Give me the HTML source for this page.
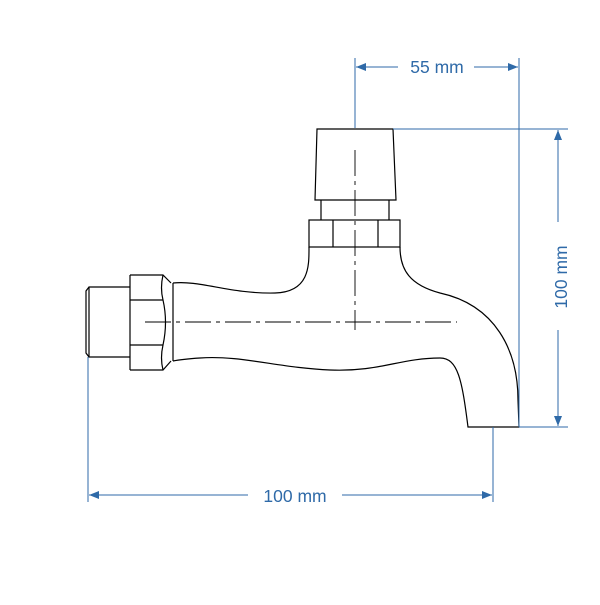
<!DOCTYPE html>
<html><head><style>body{margin:0;background:#fff}</style></head><body>
<svg width="600" height="600" viewBox="0 0 600 600" xmlns="http://www.w3.org/2000/svg">
<defs>
<marker id="a" markerWidth="10" markerHeight="8" refX="10" refY="4" orient="auto-start-reverse" markerUnits="userSpaceOnUse"><path d="M0,0 L10,4 L0,8 Z" fill="#2f6aa8"/></marker>
</defs>
<g fill="none" stroke="#000" stroke-width="1.2">
<path d="M317,129 L393,129 L396,200 L315,200 Z"/>
<path d="M321,200 L321,220 M389,200 L389,220"/>
<rect x="309" y="220" width="91" height="27"/>
<path d="M333,220 V247 M378,220 V247"/>
<path d="M309,247 C309,265 310,292 275,293 C230,294 200,280 173,283"/>
<path d="M400,247 C400,270 410,285 440,293 C495,305 518,350 518,400 L519,427 L468,427 C462,380 458,358 440,358 C400,358 380,372 330,370 C280,368 240,355 200,358 C185,359 178,360 173,361"/>
<path d="M173,283 V361"/>
<path d="M130,275 V370"/>
<path d="M130,275 H163 L171,283"/>
<path d="M130,370 H163 L171,361"/>
<path d="M163,275 Q160,288 163,300 Q168,322 163,345 Q160,358 163,370"/>
<path d="M130,300 H163 M130,345 H163"/>
<path d="M130,287 H89 L86,291 V353 L89,357 H130"/>
<path d="M89,287 V357"/>
</g>
<g stroke="#000" stroke-width="0.9" stroke-dasharray="26,5,4,5" fill="none">
<path d="M145,322 H457"/>
<path d="M355,150 V330"/>
</g>
<g stroke="#2f6aa8" stroke-width="1" fill="none">
<path d="M355,58 V128 M519,58 V427"/>
<path d="M393,129 H568 M519,427 H568"/>
<path d="M88,357 V502 M493,427 V502"/>
<path d="M356,67 H398" marker-start="url(#a)"/>
<path d="M474,67 H518" marker-end="url(#a)"/>
<path d="M558,130 V222" marker-start="url(#a)"/>
<path d="M558,330 V426" marker-end="url(#a)"/>
<path d="M89,495 H248" marker-start="url(#a)"/>
<path d="M342,495 H492" marker-end="url(#a)"/>
</g>
<g fill="#2f6aa8" font-family="Liberation Sans, sans-serif" font-size="17.5" text-anchor="middle">
<text x="437" y="73">55 mm</text>
<text x="295" y="502">100 mm</text>
<text transform="translate(567,277) rotate(-90)">100 mm</text>
</g>
</svg>
</body></html>
